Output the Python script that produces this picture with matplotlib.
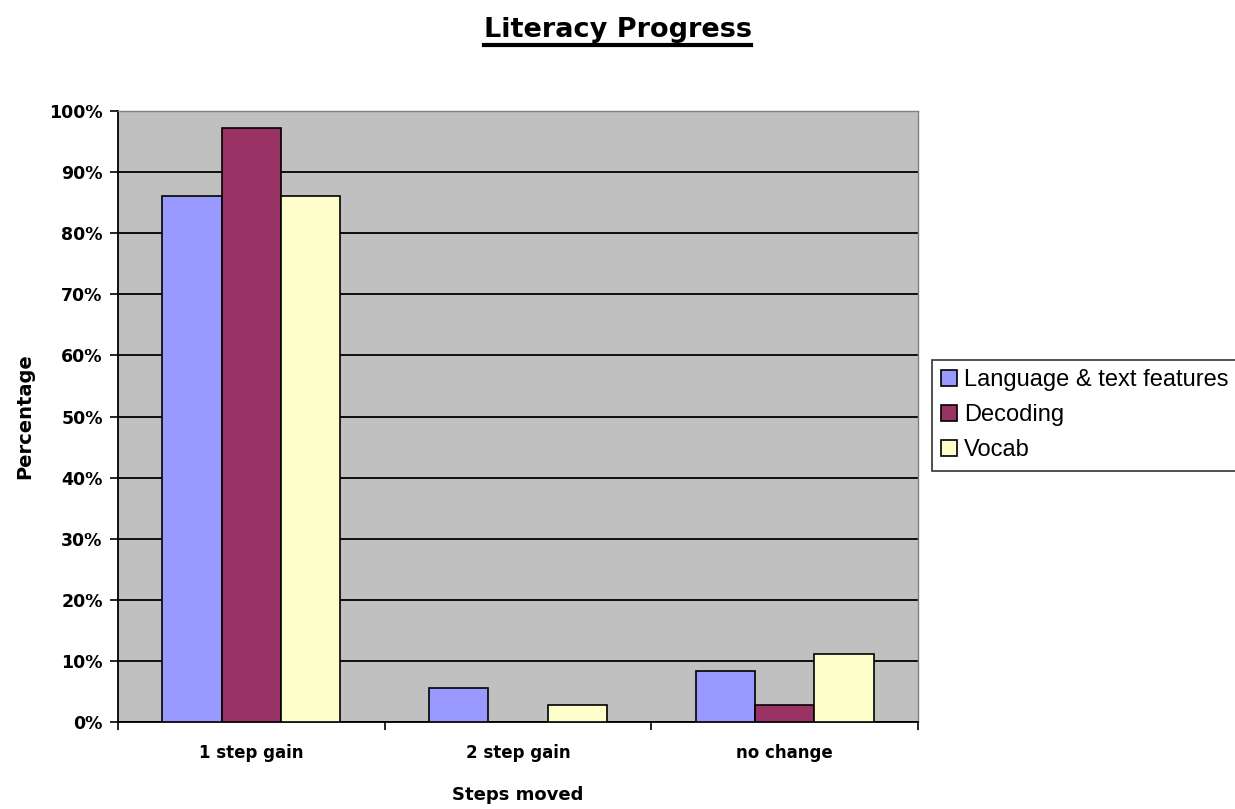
import matplotlib
matplotlib.use("Agg")
import matplotlib.pyplot as plt
import numpy as np
from matplotlib.lines import Line2D

categories = ["1 step gain", "2 step gain", "no change"]
series_names = ["Language & text features", "Decoding", "Vocab"]
language = [86.1, 5.6, 8.3]
decoding = [97.2, 0.0, 2.8]
vocab = [86.1, 2.8, 11.1]
ytick_labels = ["0%", "10%", "20%", "30%", "40%", "50%", "60%", "70%", "80%", "90%", "100%"]
colors = ["#9999FF", "#993366", "#FFFFCC"]

fig = plt.figure(figsize=(12.35, 8.09), dpi=100)
ax = fig.add_axes([118/1235, 1-722/809, 800/1235, 611/809])
ax.set_facecolor("#C0C0C0")

x = np.arange(len(categories))
w = 1/4.5
for i, (vals, name, c) in enumerate(zip([language, decoding, vocab], series_names, colors)):
    ax.bar(x + (i-1)*w, vals, width=w, color=c, edgecolor="black", linewidth=1.2,
           label=name, zorder=3)

ax.set_xlim(-0.5, 2.5)
ax.set_ylim(0, 100)
ax.set_yticks(np.arange(0, 101, 10))
ax.set_yticklabels(ytick_labels, fontsize=12.5, fontweight="bold", family="DejaVu Sans")
ax.yaxis.grid(True, color="black", linewidth=1.3, zorder=1)
ax.set_axisbelow(True)
ax.set_xticks([-0.5, 0.5, 1.5, 2.5])
ax.set_xticklabels([])
ax.set_xticks(x, minor=True)
ax.set_xticklabels(categories, minor=True, fontsize=12, fontweight="bold", family="DejaVu Sans")
ax.tick_params(axis="x", which="minor", length=0, pad=16)
ax.tick_params(axis="x", which="major", length=6, width=1.2, direction="out")
ax.tick_params(axis="y", length=6, width=1.2, direction="out", pad=5)
for s in ["left", "bottom"]:
    ax.spines[s].set_color("black")
    ax.spines[s].set_linewidth(1.3)
for s in ["top", "right"]:
    ax.spines[s].set_color("#808080")
    ax.spines[s].set_linewidth(1.0)

ax.set_xlabel("Steps moved", fontsize=13, fontweight="bold")
ax.xaxis.set_label_coords(0.5, -(795-722)/611)
ax.xaxis.label.set_va("center")
ax.set_ylabel("Percentage", fontsize=14, fontweight="bold")
ax.yaxis.set_label_coords(-(118-25)/800, 0.5)
ax.yaxis.label.set_va("center")

t = fig.text(0.5, 1-30/809, "Literacy Progress", ha="center", va="center",
             fontsize=19.5, fontweight="bold")
fig.canvas.draw()
bb = t.get_window_extent().transformed(fig.transFigure.inverted())
fig.add_artist(Line2D([bb.x0, bb.x1], [bb.y0 - 0.003, bb.y0 - 0.003], color="black",
                      linewidth=3, transform=fig.transFigure))

leg = fig.legend(loc="upper left", bbox_to_anchor=(932/1235, 1-360/809),
                 fontsize=17, frameon=True, fancybox=False, edgecolor="black",
                 handlelength=0.65, handleheight=0.65, handletextpad=0.3,
                 borderpad=0.4, labelspacing=0.55, borderaxespad=0)
leg.get_frame().set_linewidth(1.2)
for txt in leg.get_texts():
    txt.set_family("Liberation Sans")

fig.savefig("out.png", dpi=100)
